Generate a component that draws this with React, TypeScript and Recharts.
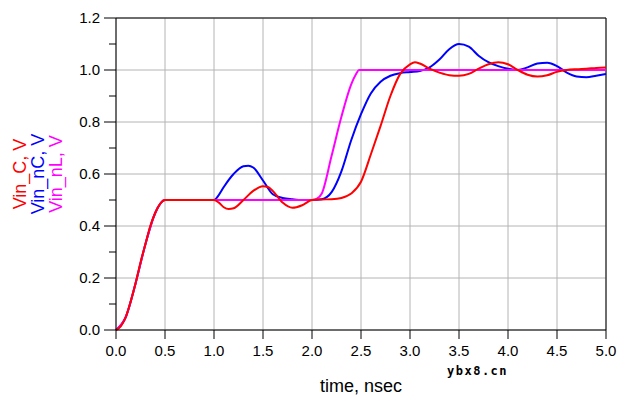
import React from 'react'
import { LineChart, Line, XAxis, YAxis, CartesianGrid, ReferenceLine, Label } from 'recharts'

// time in nsec, voltages in V
const timeC = [0, 0.05, 0.1, 0.15, 0.2, 0.25, 0.3, 0.35, 0.4, 0.45, 0.5, 1.0, 1.05, 1.1, 1.15, 1.2, 1.3, 1.4, 1.5, 1.55, 1.6, 1.7, 1.8, 1.9, 2.0, 2.1, 2.2, 2.3, 2.4, 2.5, 2.6, 2.7, 2.8, 2.9, 3.0, 3.05, 3.1, 3.2, 3.3, 3.4, 3.5, 3.6, 3.7, 3.8, 3.9, 4.0, 4.1, 4.2, 4.3, 4.4, 4.5, 4.6, 4.7, 4.8, 4.9, 5.0]
const vinC = [0, 0.015, 0.05, 0.11, 0.18, 0.26, 0.33, 0.4, 0.45, 0.485, 0.5, 0.5, 0.49, 0.472, 0.465, 0.468, 0.5, 0.535, 0.553, 0.55, 0.535, 0.49, 0.47, 0.48, 0.5, 0.502, 0.503, 0.508, 0.525, 0.57, 0.675, 0.785, 0.9, 0.985, 1.022, 1.03, 1.025, 1.005, 0.99, 0.98, 0.978, 0.985, 1.005, 1.022, 1.03, 1.022, 1.0, 0.982, 0.975, 0.98, 0.993, 1.0, 1.003, 1.005, 1.008, 1.01]

const timeNC = [0, 0.1, 0.2, 0.3, 0.4, 0.5, 1.0, 1.05, 1.1, 1.2, 1.3, 1.35, 1.4, 1.5, 1.6, 1.7, 1.8, 1.9, 2.0, 2.1, 2.2, 2.3, 2.4, 2.5, 2.6, 2.7, 2.8, 2.9, 3.0, 3.1, 3.2, 3.3, 3.4, 3.5, 3.6, 3.7, 3.8, 3.9, 4.0, 4.1, 4.2, 4.3, 4.4, 4.5, 4.6, 4.7, 4.8, 4.9, 5.0]
const vinNC = [0, 0.05, 0.18, 0.33, 0.45, 0.5, 0.5, 0.52, 0.55, 0.6, 0.63, 0.632, 0.625, 0.575, 0.522, 0.508, 0.503, 0.5, 0.5, 0.503, 0.53, 0.61, 0.73, 0.83, 0.91, 0.955, 0.978, 0.988, 0.992, 0.996, 1.01, 1.04, 1.08, 1.1, 1.09, 1.055, 1.03, 1.015, 1.005, 1.0, 1.01, 1.025, 1.028, 1.015, 0.99, 0.975, 0.972, 0.978, 0.985]

const timeNL = [0, 0.1, 0.2, 0.3, 0.4, 0.5, 1.0, 2.0, 2.05, 2.1, 2.2, 2.3, 2.4, 2.45, 2.48, 5.0]
const vinNL = [0, 0.05, 0.18, 0.33, 0.45, 0.5, 0.5, 0.5, 0.505, 0.525, 0.67, 0.82, 0.945, 0.985, 1.0, 1.0]

const xTicks = [0, 0.5, 1.0, 1.5, 2.0, 2.5, 3.0, 3.5, 4.0, 4.5, 5.0]
const yTicks = [0, 0.1, 0.2, 0.3, 0.4, 0.5, 0.6, 0.7, 0.8, 0.9, 1.0, 1.1, 1.2]
const yMajor = [0, 0.2, 0.4, 0.6, 0.8, 1.0, 1.2]

const toPoints = (ts: number[], vs: number[]) => ts.map((t, i) => ({ t, v: vs[i] }))

const FONT = '"Liberation Sans", Arial, sans-serif'

const YTick = (props: any) => {
  const { x, y, payload } = props
  const major = Math.round(payload.value * 10) % 2 === 0
  return (
    <g>
      <line x1={x - (major ? 12 : 7)} x2={x} y1={y} y2={y} stroke="#000" />
      {major && (
        <text x={x - 16} y={y} dy={5} textAnchor="end" fontSize={15} fontFamily={FONT} fill="#000">
          {payload.value.toFixed(1)}
        </text>
      )}
    </g>
  )
}

const YTitle = () => (
  <g fontFamily={FONT} fontSize={18}>
    <text transform="translate(26,174) rotate(-90)" textAnchor="middle" fill="#ff0000">Vin_C, V</text>
    <text transform="translate(44,174) rotate(-90)" textAnchor="middle" fill="#0000ff">Vin_nC, V</text>
    <text transform="translate(62,174) rotate(-90)" textAnchor="middle" fill="#ff00ff">Vin_nL, V</text>
  </g>
)

const XTitle = () => (
  <g>
    <text x={361} y={392} textAnchor="middle" fontSize={18} fontFamily={FONT} fill="#000">time, nsec</text>
    <text x={447} y={375} fontSize={12} fontWeight="bold" letterSpacing={1.5} fontFamily='"DejaVu Sans Mono", monospace' fill="#000">ybx8.cn</text>
  </g>
)

export default function App() {
  return (
    <div style={{ width: 625, height: 402, background: '#fff' }}>
      <style>{'body{margin:0}'}</style>
      <LineChart width={625} height={402} margin={{ top: 18, right: 19, bottom: 0, left: 0 }}>
        <CartesianGrid stroke="#b4b4b4" horizontalValues={yMajor} verticalValues={xTicks} />
        <XAxis
          dataKey="t"
          type="number"
          domain={[0, 5]}
          ticks={xTicks}
          tickFormatter={(v: number) => v.toFixed(1)}
          height={72}
          stroke="#000"
          tickSize={9}
          tickMargin={6}
          tick={{ fill: '#000', fontSize: 15, fontFamily: FONT }}
          allowDuplicatedCategory={false}
        >
          <Label content={<XTitle />} />
        </XAxis>
        <YAxis
          type="number"
          domain={[0, 1.2]}
          ticks={yTicks}
          width={116}
          stroke="#000"
          tickSize={0}
          tickMargin={0}
          tick={<YTick />}
          interval={0}
        >
          <Label content={<YTitle />} />
        </YAxis>
        <ReferenceLine y={1.2} stroke="#000" />
        <ReferenceLine x={5} stroke="#000" />
        <Line data={toPoints(timeNC, vinNC)} dataKey="v" type="monotone" stroke="#0000ff" strokeWidth={2} dot={false} isAnimationActive={false} />
        <Line data={toPoints(timeNL, vinNL)} dataKey="v" type="monotone" stroke="#ff00ff" strokeWidth={2} dot={false} isAnimationActive={false} />
        <Line data={toPoints(timeC, vinC)} dataKey="v" type="monotone" stroke="#ff0000" strokeWidth={2} dot={false} isAnimationActive={false} />
      </LineChart>
    </div>
  )
}
